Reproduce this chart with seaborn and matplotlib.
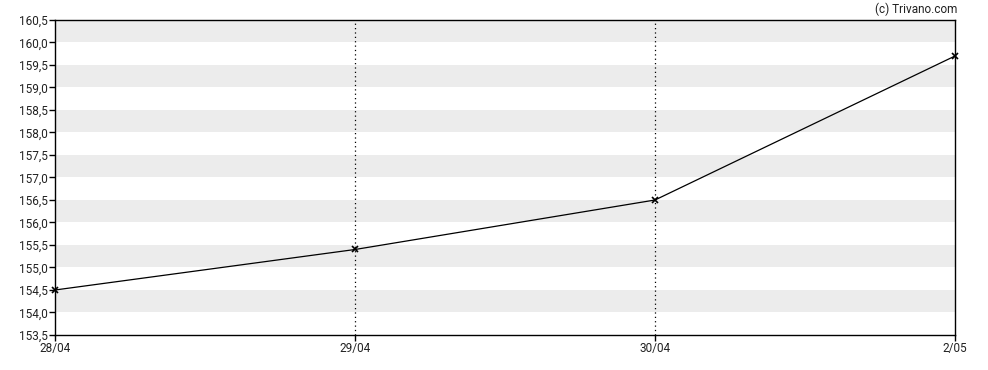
import matplotlib
matplotlib.use("Agg")
import matplotlib.pyplot as plt
import seaborn as sns
import pandas as pd
import numpy as np

dates = ["28/04", "29/04", "30/04", "2/05"]
values = [154.5, 155.4, 156.5, 159.7]
y_min, y_max = 153.5, 160.5
band_starts = [154.0, 155.0, 156.0, 157.0, 158.0, 159.0, 160.0]
vline_dates = ["29/04", "30/04"]

sns.set_theme(style="white")
plt.rcParams['font.family'] = ['Roboto', 'DejaVu Sans']

df = pd.DataFrame({"pos": np.arange(len(dates)), "value": values})

fig = plt.figure(figsize=(9.88, 3.7), dpi=100)
ax = fig.add_axes([55/988, 1 - 335/370, 900/988, 315/370])

for b in band_starts:
    ax.axhspan(b, b + 0.5, color="#ececec", lw=0, zorder=0)

for d in vline_dates:
    ax.axvline(dates.index(d), color="black", lw=0.9, ls=(0, (1, 2.5)), zorder=1)

sns.lineplot(data=df, x="pos", y="value", ax=ax, color="black", lw=0.9,
             marker="x", markersize=4, markeredgewidth=1.2, markeredgecolor="black", zorder=3)
for ln in ax.lines:
    ln.set_clip_on(False)

ax.set_xlim(0, len(dates) - 1)
ax.set_ylim(y_min, y_max)
ax.set_xticks(np.arange(len(dates)))
ax.set_xticklabels(dates)
yt = np.arange(y_min, y_max + 0.01, 0.5)
ax.set_yticks(yt)
ax.set_yticklabels([f"{v:.1f}".replace(".", ",") for v in yt])
ax.set_xlabel("")
ax.set_ylabel("")
for s in ax.spines.values():
    s.set_visible(True)
    s.set_color("black")
    s.set_linewidth(1.0)
ax.tick_params(axis="both", which="both", length=4, width=1, color="black",
               direction="out", labelsize=8.5, labelcolor="#222222", pad=1,
               left=True, bottom=True)
ax.grid(False)

fig.text(957/988, 1 - 9/370, "(c) Trivano.com", ha="right", va="center", fontsize=8.5, color="#222222")

fig.savefig("out.png", dpi=100)
